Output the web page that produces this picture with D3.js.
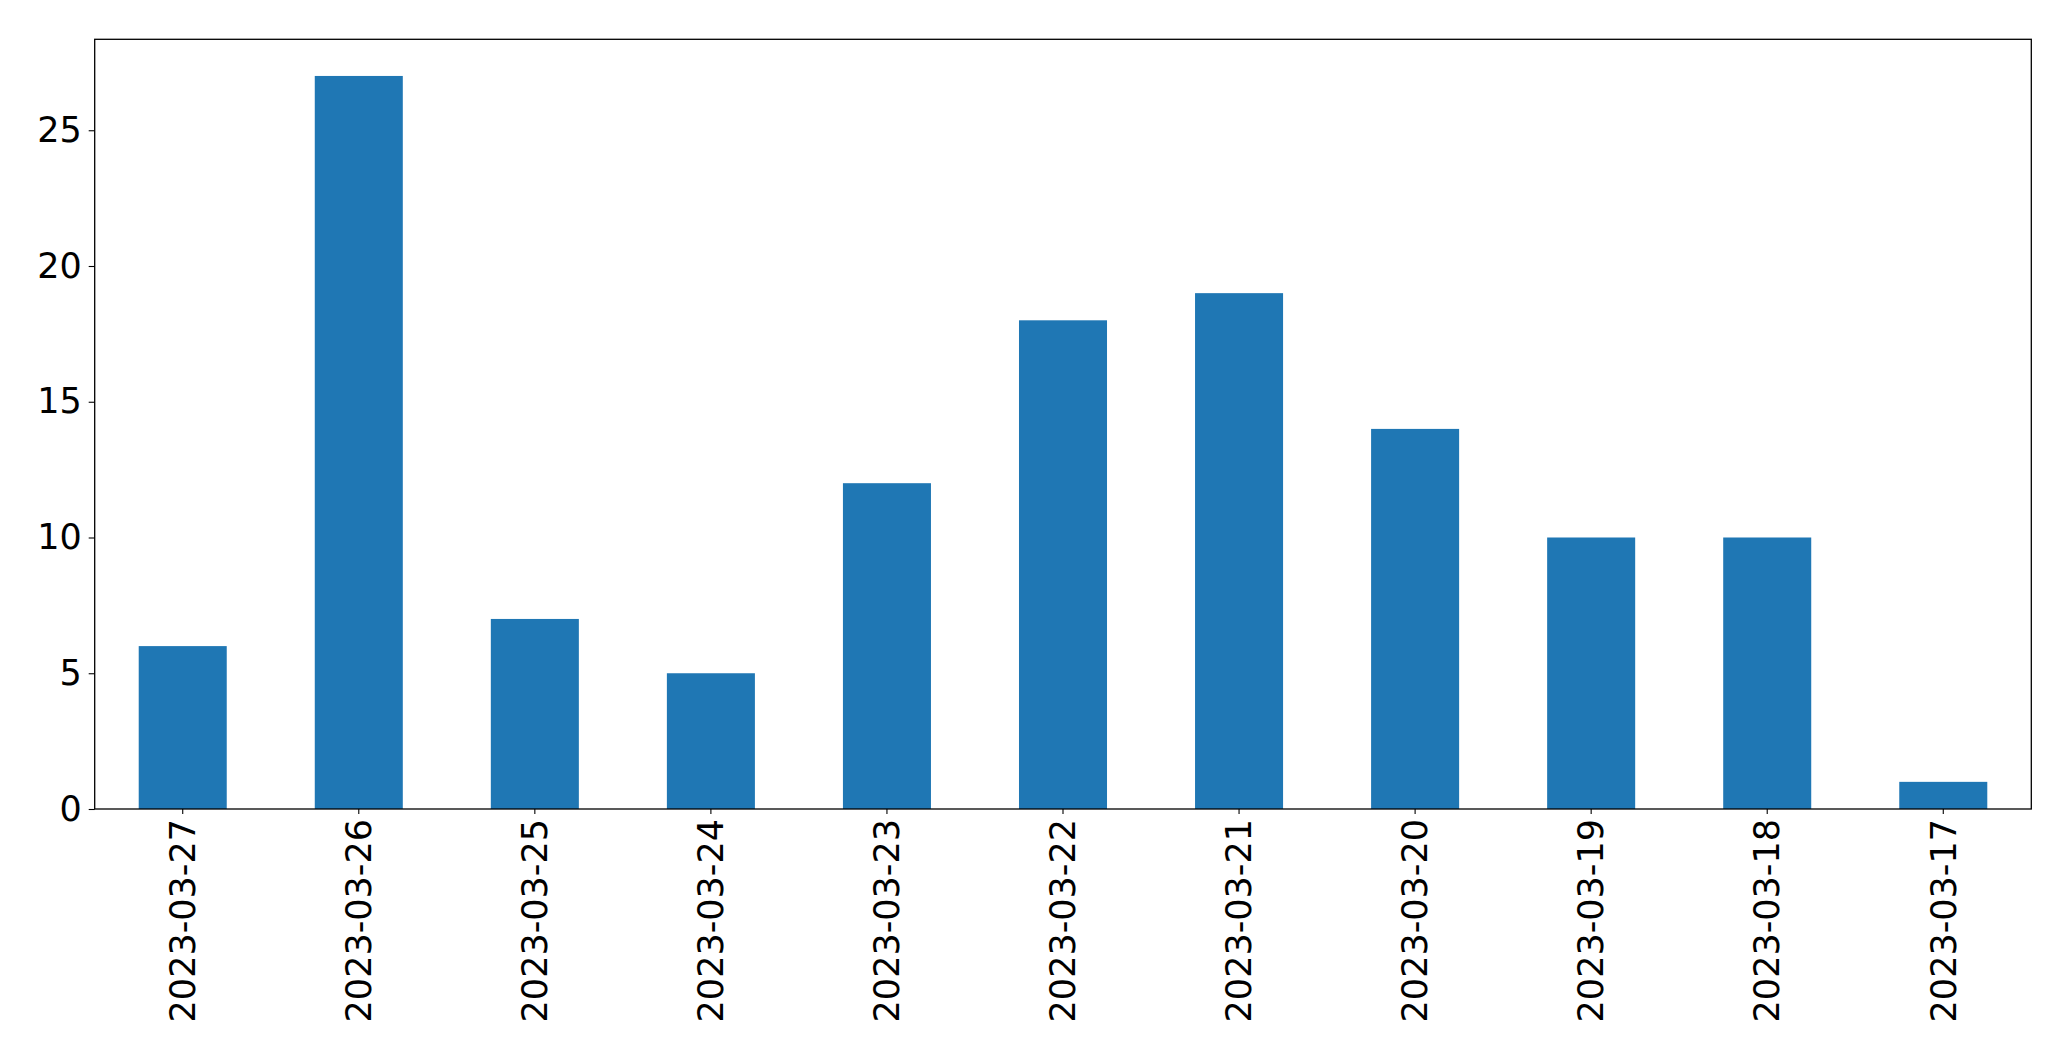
<!DOCTYPE html>
<html>
<head>
<meta charset="utf-8">
<script src="https://cdn.jsdelivr.net/npm/d3@7"></script>
<style>
  html, body { margin: 0; padding: 0; background: #fff; }
  svg { display: block; }
</style>
</head>
<body>
<script>
const categories = ["2023-03-27","2023-03-26","2023-03-25","2023-03-24","2023-03-23","2023-03-22","2023-03-21","2023-03-20","2023-03-19","2023-03-18","2023-03-17"];
const values = [6, 27, 7, 5, 12, 18, 19, 14, 10, 10, 1];
const yTicks = [0, 5, 10, 15, 20, 25];

(function () {
const W = 2071, H = 1061;
const mLeft = 94.7, mRight = 2031.3, mTop = 39.3, mBottom = 809;
const fontSize = 35;

const svg = d3.select("body").append("svg").attr("width", W).attr("height", H);

const x = d3.scaleBand().domain(categories).range([mLeft, mRight]).paddingInner(0.5).paddingOuter(0.25);
const y = d3.scaleLinear().domain([0, d3.max(values) * 1.05]).range([mBottom, mTop]);

svg.append("g").selectAll("rect").data(values).join("rect")
  .attr("x", (d, i) => x(categories[i]))
  .attr("width", x.bandwidth())
  .attr("y", d => y(d))
  .attr("height", d => mBottom - y(d))
  .attr("fill", "#1f77b4");

const xAxis = svg.append("g").attr("transform", `translate(0,${mBottom})`)
  .call(d3.axisBottom(x).tickSize(5).tickPadding(5).tickSizeOuter(0));
xAxis.select(".domain").remove();
xAxis.selectAll("line").attr("stroke", "#000").attr("stroke-width", 1.1);
xAxis.selectAll("text")
  .attr("font-family", "DejaVu Sans").attr("font-size", fontSize).attr("fill", "#000")
  .attr("text-anchor", "end")
  .attr("transform", "rotate(-90)")
  .attr("x", -10).attr("y", 0).attr("dy", "0.35em");

const yAxis = svg.append("g").attr("transform", `translate(${mLeft},0)`)
  .call(d3.axisLeft(y).tickValues(yTicks).tickFormat(d3.format("d")).tickSize(6).tickPadding(7).tickSizeOuter(0));
yAxis.select(".domain").remove();
yAxis.selectAll("line").attr("stroke", "#000").attr("stroke-width", 1.1);
yAxis.selectAll("text")
  .attr("font-family", "DejaVu Sans").attr("font-size", fontSize).attr("fill", "#000");

svg.append("rect")
  .attr("x", mLeft).attr("y", mTop).attr("width", mRight - mLeft).attr("height", mBottom - mTop)
  .attr("fill", "none").attr("stroke", "#000").attr("stroke-width", 1.3);
})();
</script>
</body>
</html>
